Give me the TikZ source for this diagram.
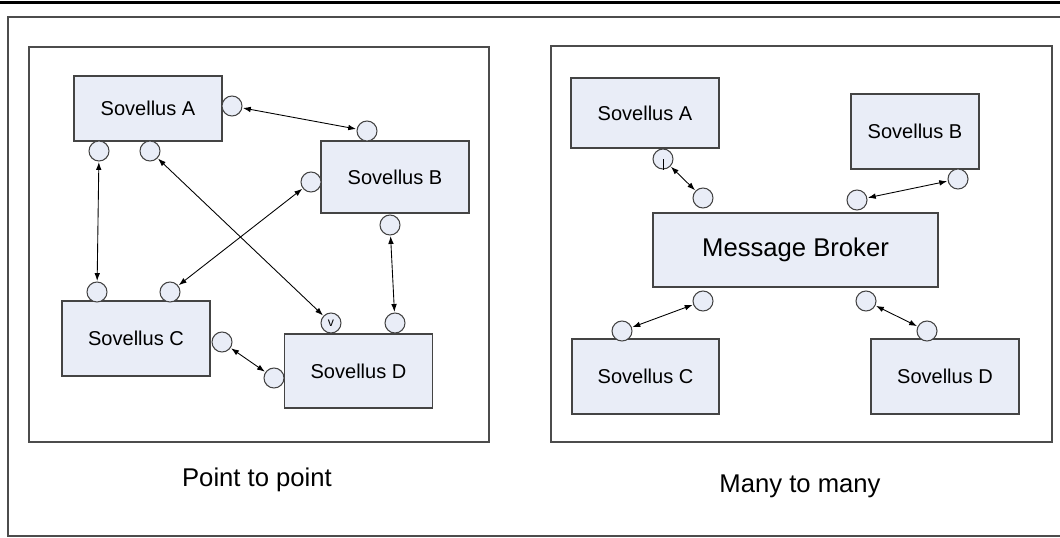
\documentclass[tikz,border=0pt]{standalone}
\usepackage{fontspec}
\setmainfont{Liberation Sans}
\usetikzlibrary{arrows.meta}

\definecolor{appfill}{RGB}{233,237,247}
\definecolor{appline}{RGB}{68,68,68}

\begin{document}
\begin{tikzpicture}[
    x=0.02cm, y=-0.02cm,
    >={Latex[length=4.5pt,width=3.2pt]},
    app style/.style={draw=appline, fill=appfill, line width=0.7pt, inner sep=0pt,
        minimum width=2.96cm, minimum height=1.48cm, font=\fontsize{11.4}{13}\selectfont},
    port style/.style={circle, draw=appline, fill=appfill, line width=0.6pt, inner sep=0pt,
        minimum size=0.4cm, font=\fontsize{7}{8}\selectfont},
    link style/.style={line width=0.5pt, <->, shorten <=0.3pt, shorten >=0.3pt},
    frame style/.style={line width=0.8pt, draw=black!70},
    caption style/.style={anchor=base, font=\fontsize{14.6}{17}\selectfont}
]
\useasboundingbox (0,0) rectangle (1060,537);

% Page rule and outer frame
\draw[line width=1.7pt] (0,2.5) -- (1060,2.5);
\draw[frame style] (1060,17) -- (8,17) -- (8,536) -- (1060,536);

% Panels
\draw[frame style] (29,47) rectangle (489,442);
\draw[frame style] (551,46) rectangle (1052,442);

% Point to point: applications
\node[app style, minimum height=1.3cm] (lA) at (148,108.5) {Sovellus A};
\node[app style, minimum height=1.44cm] (lB) at (395,177) {Sovellus B};
\node[app style, minimum height=1.5cm] (lC) at (136,338.5) {Sovellus C};
\node[app style] (lD) at (358.5,371) {Sovellus D};

% Point to point: ports
\node[port style] (lA1) at (232,106) {};
\node[port style] (lA2) at (99,151) {};
\node[port style] (lA3) at (150,151) {};
\node[port style] (lB1) at (367,131) {};
\node[port style] (lB2) at (311,182) {};
\node[port style] (lB3) at (390,225) {};
\node[port style] (lC1) at (97,292) {};
\node[port style] (lC2) at (170,292) {};
\node[port style] (lC3) at (222,342) {};
\node[port style] (lD1) at (331,323) {v};
\node[port style] (lD2) at (395,323) {};
\node[port style] (lD3) at (274,378) {};

% Point to point: links
\draw[link style] (lA1) -- (lB1);
\draw[link style] (lA2) -- (lC1);
\draw[link style] (lA3) -- (lD1);
\draw[link style] (lB2) -- (lC2);
\draw[link style] (lB3) -- (lD2);
\draw[link style] (lC3) -- (lD3);

% Many to many: applications and broker
\node[app style, minimum height=1.4cm] (rA) at (645,113) {Sovellus A};
\node[app style, minimum width=2.56cm, minimum height=1.5cm] (rB) at (915,131.5) {Sovellus B};
\node[app style, minimum width=5.7cm, font=\fontsize{14.6}{17}\selectfont] (rM) at (795.5,250) {Message Broker};
\node[app style, minimum width=2.94cm, minimum height=1.5cm] (rC) at (645.5,376.5) {Sovellus C};
\node[app style, minimum height=1.5cm] (rD) at (945,376.5) {Sovellus D};

% Many to many: ports
\node[port style] (rA1) at (663,159) {};
\node[port style] (rB1) at (958,179) {};
\node[port style] (rM1) at (703,198) {};
\node[port style] (rM2) at (857,200) {};
\node[port style] (rM3) at (703,301) {};
\node[port style] (rM4) at (866,301) {};
\node[port style] (rC1) at (622,331) {};
\node[port style] (rD1) at (927,331) {};
\draw[line width=0.5pt] (rA1.center) -- (rA1.south);

% Many to many: links
\draw[link style] (rA1) -- (rM1);
\draw[link style] (rM2) -- (rB1);
\draw[link style] (rM3) -- (rC1);
\draw[link style] (rM4) -- (rD1);

% Captions
\node[caption style] (capL) at (257,486) {Point to point};
\node[caption style] (capR) at (800,492) {Many to many};
\end{tikzpicture}
\end{document}
